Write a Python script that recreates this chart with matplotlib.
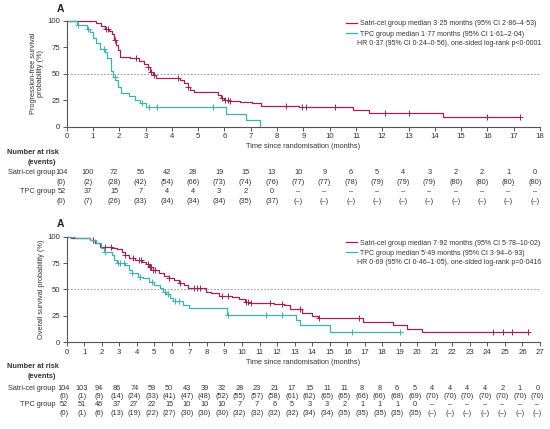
import numpy as np
import matplotlib
matplotlib.use("Agg")
import matplotlib.pyplot as plt
import matplotlib.transforms as mtransforms

plt.rcParams['font.family'] = ['Liberation Sans', 'DejaVu Sans']

SATRI_COLOR = '#9a2358'
TPC_COLOR = '#3fb1b0'
TEXT_COLOR = '#333333'
FS = 5.3        # table / label text
FS_TICK = 5.6
FS_LEG = 5.0

# ---- progression-free survival (top panel) ----
pfs_satri_t = [0, 0.35, 1.1, 1.3, 1.45, 1.6, 1.72, 1.8, 1.88, 1.95, 2.02, 2.4, 2.75, 2.95, 3.08,
               3.18, 3.3, 3.4, 4.3, 4.45, 4.6, 4.68, 4.85, 5.75, 5.88, 5.98, 6.15, 6.6, 7.05, 7.4,
               8.85, 10.9, 11.5, 14.3, 17.25]
pfs_satri_s = [100, 99.5, 97.5, 95, 92, 90, 87, 82, 77, 72, 65.5, 64.5, 62, 59.5, 56,
               52, 48.5, 45.5, 44, 41, 37.5, 34.5, 32.5, 29.5, 27, 25, 24, 23, 22, 19.5,
               18.3, 15.8, 12.6, 8.9, 8.9]
pfs_satri_cens = [1.48, 1.58, 1.82, 2.65, 3.1, 3.22, 3.32, 4.25, 4.62, 5.9, 6.02, 6.12, 6.22,
                  8.35, 8.95, 9.1, 10.2, 12.1, 13.0, 16.0, 17.25]

pfs_tpc_t = [0, 0.38, 0.78, 0.88, 1.0, 1.12, 1.28, 1.45, 1.55, 1.68, 1.77, 1.85, 1.95, 2.08,
             2.35, 2.6, 2.8, 3.0, 6.05, 6.8, 7.37]
pfs_tpc_s = [100, 96, 92, 89.5, 84, 79, 73.5, 70, 65, 53, 47, 44, 37, 31.5,
             29, 25.5, 22, 18.5, 12, 6, 0]
pfs_tpc_cens = [0.42, 0.8, 1.4, 1.83, 2.86, 3.12, 3.42, 5.55]

pfs_months = list(range(19))
pfs_satri_risk = ['104', '100', '72', '56', '42', '28', '19', '15', '13', '10', '9', '6', '5', '4',
                  '3', '2', '2', '1', '0']
pfs_satri_events = ['0', '2', '28', '42', '54', '66', '73', '74', '76', '77', '77', '78', '79', '79',
                    '79', '80', '80', '80', '80']
pfs_tpc_risk = ['52', '37', '15', '7', '4', '4', '3', '2', '0'] + ['–'] * 10
pfs_tpc_events = ['0', '7', '26', '33', '34', '34', '34', '35', '37'] + ['–'] * 10

# ---- overall survival (bottom panel) ----
os_satri_t = [0, 0.25, 1.3, 1.6, 1.9, 2.55, 2.85, 3.15, 3.3, 3.55, 3.9, 4.3, 4.5, 4.7, 4.9, 5.25,
              5.55, 5.85, 6.1, 6.4, 6.7, 6.92, 7.95, 8.25, 8.7, 9.45, 9.85, 10.15, 10.5, 11.8,
              12.4, 12.75, 13.4, 13.97, 14.35, 16.92, 18.63, 19.4, 20.25, 26.3]
os_satri_s = [100, 99, 97, 93.7, 90.5, 89, 88.3, 85.8, 82.7, 79.5, 78, 76.3, 73.9, 71.6, 68.5, 65.9,
              63, 61.2, 59, 56, 54.3, 51, 48, 46.4, 44, 42.5, 40.7, 38, 37, 36,
              35, 31.5, 28, 24.9, 22.7, 19, 16.4, 12.6, 10, 10]
os_satri_cens = [1.5, 2.2, 2.5, 3.35, 3.8, 4.1, 4.25, 4.65, 4.75, 4.8, 4.9, 5.05, 5.85, 6.45,
                 7.25, 7.45, 7.6, 8.85, 9.2, 10.2, 10.35, 10.5, 11.6, 12.26, 13.3, 14.4, 16.7,
                 24.3, 24.9, 25.4, 26.3]

os_tpc_t = [0, 0.5, 1.35, 1.65, 1.95, 2.15, 2.6, 2.72, 2.85, 3.3, 3.55, 3.75, 4.05, 4.35, 4.7,
            5.0, 5.3, 5.49, 5.68, 5.87, 6.05, 6.65, 6.95, 9.15, 13.1, 13.3, 15.0, 19.0]
os_tpc_s = [100, 98.5, 96.9, 93.7, 89.6, 85.8, 82.7, 78, 74.7, 73.2, 68.5, 65.3, 62, 60.6, 57.4,
            54.3, 51, 48, 45.3, 42.3, 39, 35.3, 32.8, 25.9, 21, 16.4, 10, 10]
os_tpc_cens = [2.2, 2.95, 3.05, 3.25, 3.75, 4.2, 4.85, 5.6, 5.75, 6.2, 6.4, 9.2, 11.37, 12.3,
               16.26, 19.0]

os_months = list(range(28))
os_satri_risk = ['104', '103', '94', '86', '74', '59', '50', '43', '39', '32', '28', '23', '21', '17',
                 '15', '11', '11', '8', '8', '6', '5', '4', '4', '4', '4', '2', '1', '0']
os_satri_events = ['0', '1', '9', '14', '24', '33', '41', '47', '48', '52', '55', '57', '58', '61',
                   '62', '65', '65', '66', '66', '68', '69', '70', '70', '70', '70', '70', '70', '70']
os_tpc_risk = ['52', '51', '46', '37', '27', '22', '15', '10', '10', '10', '7', '7', '6', '5',
               '3', '3', '2', '1', '1', '1', '0'] + ['–'] * 7
os_tpc_events = ['0', '1', '6', '13', '19', '22', '27', '30', '30', '30', '32', '32', '32', '32',
                 '34', '34', '35', '35', '35', '35', '35'] + ['–'] * 7

pfs_labels = ['Satri-cel group median 3·25 months (95% CI 2·86–4·53)',
              'TPC group median 1·77 months (95% CI 1·61–2·04)']
pfs_hr = 'HR 0·37 (95% CI 0·24–0·56), one-sided log-rank p<0·0001'
os_labels = ['Satri-cel group median 7·92 months (95% CI 5·78–10·02)',
             'TPC group median 5·49 months (95% CI 3·94–6·93)']
os_hr = 'HR 0·69 (95% CI 0·46–1·05), one-sided log-rank p=0·0416'


def step_value(t, s, x):
    # value of the post-step function at time x
    idx = np.searchsorted(t, x, side='right') - 1
    return np.asarray(s)[idx]


def km_curve(ax, t, s, cens, color, label):
    line, = ax.step(t, s, where='post', color=color, lw=0.9, clip_on=False, label=label)
    ax.plot(cens, step_value(t, s, cens), ls='none', marker='+', ms=4, mew=0.7,
            color=color, clip_on=False)
    return line


def style_axes(ax, xmax, ylabel):
    ax.set_xlim(0, xmax)
    ax.set_ylim(0, 100)
    ax.set_xticks(range(xmax + 1))
    ax.set_yticks([0, 25, 50, 75, 100])
    for side in ['top', 'right']:
        ax.spines[side].set_visible(False)
    for side in ['left', 'bottom']:
        ax.spines[side].set_color('#555555')
        ax.spines[side].set_linewidth(0.8)
    ax.tick_params(direction='out', length=3, width=0.7, color='#555555',
                   labelsize=FS_TICK, labelcolor=TEXT_COLOR, pad=1.5)
    ax.axhline(50, color='#888888', lw=0.6, ls=(0, (2, 2)))
    ax.set_xlabel('Time since randomisation (months)', fontsize=FS, color=TEXT_COLOR, labelpad=2.5)
    ax.set_ylabel(ylabel, fontsize=FS, color=TEXT_COLOR, linespacing=1.15)


def add_legend(ax, handles, anchor_y, hr_text, hr_y):
    ax.legend(handles=handles, loc='upper left', bbox_to_anchor=(0.582, anchor_y), frameon=False,
              fontsize=FS_LEG, handlelength=1.6, handletextpad=0.4, labelspacing=0.45,
              borderpad=0, labelcolor=TEXT_COLOR)
    ax.text(0.614, hr_y, hr_text, transform=ax.transAxes, fontsize=FS_LEG, color=TEXT_COLOR,
            va='center', ha='left')


def risk_table(fig, ax, months, rows_y, satri_risk, satri_ev, tpc_risk, tpc_ev, shift):
    trans = mtransforms.blended_transform_factory(ax.transData, fig.transFigure)
    H = 429.0
    y = [1 - v / H for v in rows_y]
    lab_x = 55.5 / 550.0
    fig.text(0.012, y[0], 'Number at risk', fontsize=FS, fontweight='bold',
             color=TEXT_COLOR, va='center', ha='left')
    fig.text(lab_x, y[1], '(events)', fontsize=FS, fontweight='bold',
             color=TEXT_COLOR, va='center', ha='right')
    fig.text(lab_x, y[2], 'Satri-cel group', fontsize=FS, color=TEXT_COLOR, va='center', ha='right')
    fig.text(lab_x, y[4], 'TPC group', fontsize=FS, color=TEXT_COLOR, va='center', ha='right')
    for i, m in enumerate(months):
        x = m + shift
        ax.text(x, y[2], satri_risk[i], transform=trans, fontsize=FS, color=TEXT_COLOR,
                ha='center', va='center')
        ax.text(x, y[3], '(' + satri_ev[i] + ')', transform=trans, fontsize=FS,
                color=TEXT_COLOR, ha='center', va='center')
        ax.text(x, y[4], tpc_risk[i], transform=trans, fontsize=FS, color=TEXT_COLOR,
                ha='center', va='center')
        ax.text(x, y[5], '(' + tpc_ev[i] + ')', transform=trans, fontsize=FS,
                color=TEXT_COLOR, ha='center', va='center')


fig = plt.figure(figsize=(5.5, 4.29), dpi=100)
ax1 = fig.add_axes([0.1213, 0.7047, 0.8605, 0.2471])
ax2 = fig.add_axes([0.1213, 0.2021, 0.8605, 0.2462])

# top panel
style_axes(ax1, 18, 'Progression-free survival\nprobability (%)')
ax1.yaxis.set_label_coords(-0.047, 0.5)
l1 = km_curve(ax1, pfs_satri_t, pfs_satri_s, pfs_satri_cens, SATRI_COLOR, pfs_labels[0])
l2 = km_curve(ax1, pfs_tpc_t, pfs_tpc_s, pfs_tpc_cens, TPC_COLOR, pfs_labels[1])
add_legend(ax1, [l1, l2], 1.035, pfs_hr, 0.78)
risk_table(fig, ax1, pfs_months, [153, 162.5, 173, 182.5, 192, 201.5],
           pfs_satri_risk, pfs_satri_events, pfs_tpc_risk, pfs_tpc_events, -0.2)

# bottom panel
style_axes(ax2, 27, 'Overall survival probability (%)')
ax2.yaxis.set_label_coords(-0.045, 0.5)
l3 = km_curve(ax2, os_satri_t, os_satri_s, os_satri_cens, SATRI_COLOR, os_labels[0])
l4 = km_curve(ax2, os_tpc_t, os_tpc_s, os_tpc_cens, TPC_COLOR, os_labels[1])
add_legend(ax2, [l3, l4], 1.005, os_hr, 0.758)
risk_table(fig, ax2, os_months, [367, 376.5, 389, 397, 405, 413.5],
           os_satri_risk, os_satri_events, os_tpc_risk, os_tpc_events, -0.15)

fig.text(57 / 550, 1 - 9 / 429, 'A', fontsize=7.5, fontweight='bold', color='#222222',
         va='center', ha='left')
fig.text(57 / 550, 1 - 224 / 429, 'A', fontsize=7.5, fontweight='bold', color='#222222',
         va='center', ha='left')

fig.savefig('out.png', dpi=100)
